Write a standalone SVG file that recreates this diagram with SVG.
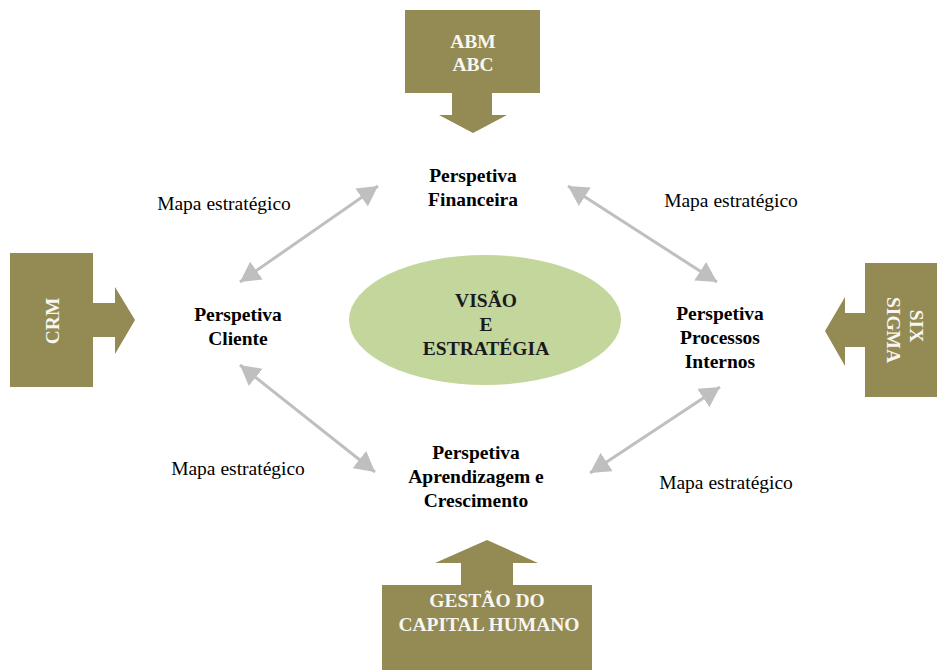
<svg xmlns="http://www.w3.org/2000/svg" width="937" height="670" viewBox="0 0 937 670">
  <style>
    text { font-family: 'Liberation Serif', 'Times New Roman', Times, 'DejaVu Serif', serif; font-size: 19.5px; text-anchor: middle; }
    .tool { fill: #948A54; }
    .tool-text { font-weight: bold; fill: #F7F6F0; }
    .persp { font-weight: bold; fill: #000; }
    .core { font-weight: bold; fill: #1A1A1A; }
    .map { fill: #000; }
    .link { stroke: #BFBFBF; stroke-width: 3; fill: none; marker-start: url(#head); marker-end: url(#head); }
  </style>
  <defs>
    <marker id="head" viewBox="0 0 20 22" refX="20" refY="11" markerWidth="20" markerHeight="22" markerUnits="userSpaceOnUse" orient="auto-start-reverse">
      <path d="M0,0 L20,11 L0,22 Z" fill="#BFBFBF"/>
    </marker>
  </defs>

  <!-- Central vision -->
  <g id="visao">
    <ellipse cx="485" cy="320" rx="136" ry="65" fill="#C3D69B"/>
    <text class="core" x="486" y="307">VISÃO</text>
    <text class="core" x="486" y="331">E</text>
    <text class="core" x="486" y="355">ESTRATÉGIA</text>
  </g>

  <!-- Perspectives -->
  <g id="financeira">
    <text class="persp" x="473" y="182">Perspetiva</text>
    <text class="persp" x="473" y="206">Financeira</text>
  </g>
  <g id="cliente">
    <text class="persp" x="238" y="321">Perspetiva</text>
    <text class="persp" x="238" y="345">Cliente</text>
  </g>
  <g id="processos">
    <text class="persp" x="720" y="320">Perspetiva</text>
    <text class="persp" x="720" y="344">Processos</text>
    <text class="persp" x="720" y="368">Internos</text>
  </g>
  <g id="aprendizagem">
    <text class="persp" x="476" y="459">Perspetiva</text>
    <text class="persp" x="476" y="483">Aprendizagem e</text>
    <text class="persp" x="476" y="507">Crescimento</text>
  </g>

  <!-- Management tools feeding the perspectives -->
  <g id="abm-abc">
    <path class="tool" d="M405,10 H540 V93 H492 V115 H507 L473,133 L439,115 H452 V93 H405 Z"/>
    <text class="tool-text" x="473" y="48">ABM</text>
    <text class="tool-text" x="473" y="71">ABC</text>
  </g>
  <g id="crm">
    <path class="tool" d="M10,253 H93 V303 H115 V287 L135,320 L115,354 V337 H93 V387 H10 Z"/>
    <text class="tool-text" transform="translate(59,321) rotate(-90)">CRM</text>
  </g>
  <g id="six-sigma">
    <path class="tool" d="M937,263 H865 V313 H845 V297 L825,331 L845,366 V347 H865 V397 H937 Z"/>
    <text class="tool-text" transform="translate(910,326) rotate(90)">SIX</text>
    <text class="tool-text" transform="translate(887,330) rotate(90)">SIGMA</text>
  </g>
  <g id="capital-humano">
    <path class="tool" d="M382,670 V585 H461 V563 H435 L487,540 L538,563 H513 V585 H592 V670 Z"/>
    <text class="tool-text" x="487" y="607">GESTÃO DO</text>
    <text class="tool-text" x="489" y="631">CAPITAL HUMANO</text>
  </g>

  <!-- Strategy map links -->
  <g id="connectors">
    <line class="link" x1="240" y1="282" x2="378" y2="186"/>
    <line class="link" x1="568" y1="186" x2="717" y2="282"/>
    <line class="link" x1="240" y1="365" x2="375" y2="472"/>
    <line class="link" x1="590" y1="473" x2="720" y2="387"/>
    <text class="map" x="224" y="210">Mapa estratégico</text>
    <text class="map" x="731" y="207">Mapa estratégico</text>
    <text class="map" x="238" y="475">Mapa estratégico</text>
    <text class="map" x="726" y="489">Mapa estratégico</text>
  </g>
</svg>
